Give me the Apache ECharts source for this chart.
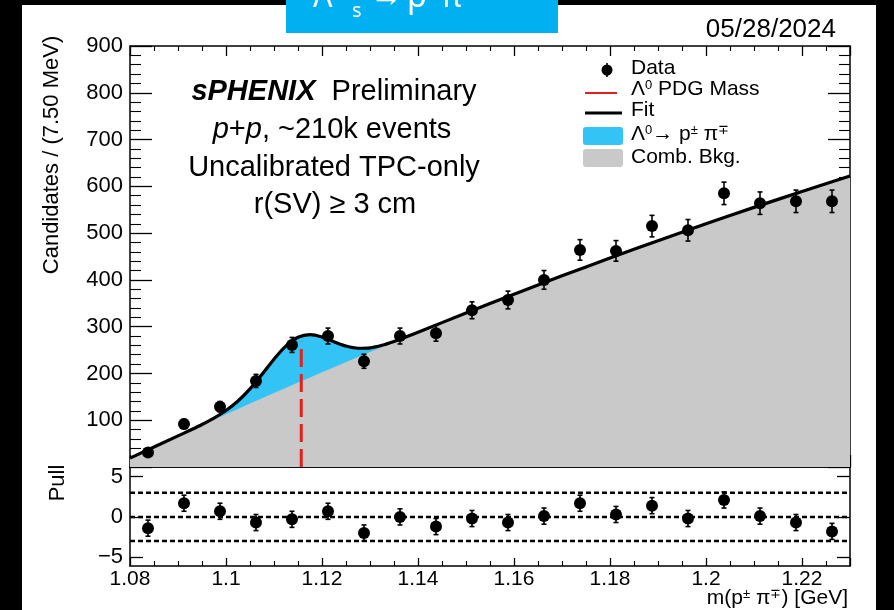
<!DOCTYPE html>
<html><head><meta charset="utf-8">
<script src="https://cdn.jsdelivr.net/npm/echarts@6/dist/echarts.min.js"></script>
<style>html,body{margin:0;padding:0;background:#000}#c{width:894px;height:610px}</style>
</head><body><div id="c"></div>
<script>
// ---- data ----
const binCenters = [1.08375, 1.09125, 1.09875, 1.10625, 1.11375, 1.12125, 1.12875, 1.13625, 1.14375, 1.15125,
                    1.15875, 1.16625, 1.17375, 1.18125, 1.18875, 1.19625, 1.20375, 1.21125, 1.21875, 1.22625];
const dataCounts = [31, 92, 129, 184, 261, 280, 226, 280, 286, 335, 357, 400, 464, 462, 515, 506, 585, 564, 568, 568];
const dataErrors = [6, 10, 11, 14, 16, 17, 15, 17, 17, 18, 19, 20, 22, 22, 23, 23, 24, 24, 24, 24];
const pullValues = [-1.4, 1.7, 0.7, -0.7, -0.3, 0.7, -2.0, 0.0, -1.2, -0.2, -0.7, 0.1, 1.7, 0.3, 1.4, -0.2, 2.1, 0.1, -0.7, -1.8];
const pullErrors = [1, 1, 1, 1, 1, 1, 1, 1, 1, 1, 1, 1, 1, 1, 1, 1, 1, 1, 1, 1];
const fitMass  = [1.08, 1.09, 1.0925, 1.095, 1.0975, 1.10, 1.1025, 1.105, 1.1075, 1.11, 1.1125, 1.115, 1.1175,
                  1.12, 1.1225, 1.125, 1.1275, 1.13, 1.1325, 1.135, 1.1375, 1.14, 1.15, 1.16, 1.17, 1.18, 1.19,
                  1.20, 1.21, 1.22, 1.23];
const fitTotal = [19.0, 66.5, 78.5, 90.9, 104.6, 120.8, 141.2, 167.1, 198.0, 230.5, 258.9, 277.4, 283.1,
                  278.0, 267.8, 258.6, 253.9, 254.8, 260.2, 268.4, 277.9, 288.0, 329.2, 369.4, 408.6, 446.7, 483.8,
                  519.9, 555.0, 589.0, 622.1];
const fitBkg   = [19.0, 66.4, 78.1, 89.7, 101.3, 112.8, 124.2, 135.6, 146.9, 158.1, 169.3, 180.4, 191.5,
                  202.4, 213.3, 224.2, 235.0, 245.7, 256.4, 267.0, 277.5, 288.0, 329.2, 369.4, 408.6, 446.7, 483.8,
                  519.9, 555.0, 589.0, 622.1];
const pdgMass = 1.11568;
const pdgLineTop = 268;
const pullLevels = [3, 0, -3];
const massRange = [1.08, 1.23];
const countsRange = [0, 900];
const pullRange = [-6.1, 6.2];
const pullTickValues = [-5, 0, 5];

// ---- styling ----
const FONT = 'Liberation Sans, Arial, Helvetica, sans-serif';
const BLUE = '#33c4f5', GRAY = '#c9c9c9', RED = '#e3201b';

function xAx(gridIndex, position, showLabel, major, minor, showTicks) {
  return {
    type: 'value', gridIndex, position, min: massRange[0], max: massRange[1], interval: 0.02,
    axisLine: {show: true, onZero: false, lineStyle: {color: '#000', width: 1.5}},
    axisTick: {show: showTicks, inside: true, length: major, lineStyle: {color: '#000', width: 1.3}},
    minorTick: {show: showTicks, splitNumber: 4, length: minor, lineStyle: {color: '#000', width: 1.1}},
    axisLabel: {show: showLabel, showMaxLabel: false, margin: 3, color: '#000', fontFamily: FONT, fontSize: 21,
      formatter: v => (+v.toFixed(4)).toString()},
    splitLine: {show: false}, minorSplitLine: {show: false}
  };
}
function yMain(position, showLabel) {
  return {
    type: 'value', gridIndex: 0, position, min: countsRange[0], max: countsRange[1], interval: 100,
    axisLine: {show: true, onZero: false, lineStyle: {color: '#000', width: 1.5}},
    axisTick: {show: true, inside: true, length: 22, lineStyle: {color: '#000', width: 1.3}},
    minorTick: {show: true, splitNumber: 5, length: 11, lineStyle: {color: '#000', width: 1.1}},
    axisLabel: {show: showLabel, showMinLabel: false, margin: 7, color: '#000', fontFamily: FONT, fontSize: 22},
    splitLine: {show: false}, minorSplitLine: {show: false}
  };
}
function yPull(position, showLabel) {
  return {
    type: 'value', gridIndex: 1, position, min: pullRange[0], max: pullRange[1],
    axisLine: {show: true, onZero: false, lineStyle: {color: '#000', width: 1.5}},
    axisTick: {show: true, inside: true, length: 13, customValues: pullTickValues, lineStyle: {color: '#000', width: 1.3}},
    minorTick: {show: false},
    axisLabel: {show: showLabel, margin: 7, color: '#000', fontFamily: FONT, fontSize: 22, customValues: pullTickValues,
      formatter: v => v < 0 ? '\u2212' + (-v) : String(v)},
    splitLine: {show: false}, minorSplitLine: {show: false}
  };
}

function errRender(params, api) {
  const x = api.value(0), y = api.value(1), e = api.value(2);
  const lo = api.coord([x, y - e]), hi = api.coord([x, y + e]);
  const c = 2.5, st = {stroke: '#000', lineWidth: 1.6};
  return {type: 'group', children: [
    {type: 'line', shape: {x1: lo[0], y1: lo[1], x2: hi[0], y2: hi[1]}, style: st},
    {type: 'line', shape: {x1: lo[0] - c, y1: lo[1], x2: lo[0] + c, y2: lo[1]}, style: st},
    {type: 'line', shape: {x1: hi[0] - c, y1: hi[1], x2: hi[0] + c, y2: hi[1]}, style: st}
  ]};
}

const mainPts = binCenters.map((m, i) => [m, dataCounts[i], dataErrors[i]]);
const pullPts = binCenters.map((m, i) => [m, pullValues[i], pullErrors[i]]);

const series = [
  {type: 'line', xAxisIndex: 0, yAxisIndex: 0, z: 1, data: fitMass.map((m, i) => [m, fitTotal[i]]),
   showSymbol: false, lineStyle: {width: 0}, areaStyle: {color: BLUE, opacity: 1}, silent: true},
  {type: 'line', xAxisIndex: 0, yAxisIndex: 0, z: 2, data: fitMass.map((m, i) => [m, fitBkg[i]]),
   showSymbol: false, lineStyle: {width: 0}, areaStyle: {color: GRAY, opacity: 1}, silent: true},
  {type: 'line', xAxisIndex: 0, yAxisIndex: 0, z: 3, data: [[pdgMass, 0], [pdgMass, pdgLineTop]],
   showSymbol: false, lineStyle: {color: RED, width: 3, type: [18, 7]}, silent: true},
  {type: 'line', xAxisIndex: 0, yAxisIndex: 0, z: 4, data: fitMass.map((m, i) => [m, fitTotal[i]]),
   showSymbol: false, smooth: 0.3, lineStyle: {color: '#000', width: 3.2}, silent: true},
  {type: 'custom', xAxisIndex: 0, yAxisIndex: 0, z: 5, data: mainPts, encode: {x: 0, y: 1}, renderItem: errRender},
  {type: 'scatter', xAxisIndex: 0, yAxisIndex: 0, z: 6, data: mainPts.map(p => [p[0], p[1]]),
   symbol: 'circle', symbolSize: 12, itemStyle: {color: '#000', opacity: 1}},
  ...pullLevels.map(lv => ({type: 'line', xAxisIndex: 2, yAxisIndex: 2, z: 3,
   data: [[massRange[0], lv], [massRange[1], lv]], showSymbol: false,
   lineStyle: {color: '#000', width: 2.5, type: [5, 3]}, silent: true})),
  {type: 'custom', xAxisIndex: 2, yAxisIndex: 2, z: 5, data: pullPts, encode: {x: 0, y: 1}, renderItem: errRender},
  {type: 'scatter', xAxisIndex: 2, yAxisIndex: 2, z: 6, data: pullPts.map(p => [p[0], p[1]]),
   symbol: 'circle', symbolSize: 12, itemStyle: {color: '#000', opacity: 1}}
];

const legX = 631;
const legRich = {t: {fontFamily: FONT, fontSize: 21, fill: '#000'}, s: {fontFamily: FONT, fontSize: 13, fill: '#000', verticalAlign: 'top'}};
const boxRich = {r: {fontFamily: FONT, fontSize: 29, fill: '#000'},
                 bi: {fontFamily: FONT, fontSize: 29, fontWeight: 'bold', fontStyle: 'italic', fill: '#000'},
                 i: {fontFamily: FONT, fontSize: 29, fontStyle: 'italic', fill: '#000'}};

const graphic = [
  {type: 'rect', z: -10, shape: {x: 22, y: 5, width: 854, height: 605}, style: {fill: '#fff'}},
  {type: 'rect', z: 10, shape: {x: 286, y: 0, width: 272, height: 33}, style: {fill: '#00b0f0'}},
  {type: 'text', z: 11, x: 313, y: -2, style: {text: 'Λ', font: '32px Noto Sans', fill: '#fff', align: 'left', verticalAlign: 'middle'}},
  {type: 'text', z: 11, x: 352, y: 11, style: {text: 's', font: '20px Noto Sans', fill: '#fff', align: 'left', verticalAlign: 'middle'}},
  {type: 'text', z: 11, x: 402, y: -3, style: {text: '→', font: '32px Noto Sans', fill: '#fff', align: 'right', verticalAlign: 'middle'}},
  {type: 'text', z: 11, x: 407, y: -2, style: {text: 'p', font: '32px Noto Sans', fill: '#fff', align: 'left', verticalAlign: 'middle'}},
  {type: 'text', z: 11, x: 441, y: -2, style: {text: 'π', font: '32px Noto Sans', fill: '#fff', align: 'left', verticalAlign: 'middle'}},
  {type: 'text', z: 11, x: 836, y: 30, style: {text: '05/28/2024', font: '26px ' + FONT, fill: '#000', align: 'right', verticalAlign: 'middle'}},
  // axis titles
  {type: 'text', z: 11, x: 52, y: 155, rotation: Math.PI / 2, style: {text: 'Candidates / (7.50 MeV)', font: '22px ' + FONT, fill: '#000', align: 'center', verticalAlign: 'middle'}},
  {type: 'text', z: 11, x: 58, y: 483, rotation: Math.PI / 2, style: {text: 'Pull', font: '22px ' + FONT, fill: '#000', align: 'center', verticalAlign: 'middle'}},
  {type: 'text', z: 11, x: 848, y: 598, style: {text: '{t|m(p}{s|±}{t| π}{s|∓}{t|) [GeV]}', rich: legRich, align: 'right', verticalAlign: 'middle'}},
  // info text
  {type: 'text', z: 11, x: 334, y: 92, style: {text: '{bi|sPHENIX}{r|  Preliminary}', rich: boxRich, align: 'center', verticalAlign: 'middle'}},
  {type: 'text', z: 11, x: 332, y: 130, style: {text: '{i|p}{r|+}{i|p}{r|, ~210k events}', rich: boxRich, align: 'center', verticalAlign: 'middle'}},
  {type: 'text', z: 11, x: 334, y: 168, style: {text: '{r|Uncalibrated TPC-only}', rich: boxRich, align: 'center', verticalAlign: 'middle'}},
  {type: 'text', z: 11, x: 335, y: 205, style: {text: '{r|r(SV) ≥ 3 cm}', rich: boxRich, align: 'center', verticalAlign: 'middle'}},
  // legend
  {type: 'line', z: 11, shape: {x1: 607, y1: 63, x2: 607, y2: 77}, style: {stroke: '#000', lineWidth: 1.6}},
  {type: 'circle', z: 11, shape: {cx: 607, cy: 70, r: 5.5}, style: {fill: '#000'}},
  {type: 'text', z: 11, x: legX, y: 68, style: {text: '{t|Data}', rich: legRich, align: 'left', verticalAlign: 'middle'}},
  {type: 'line', z: 11, shape: {x1: 585, y1: 93, x2: 617, y2: 93}, style: {stroke: RED, lineWidth: 2}},
  {type: 'text', z: 11, x: legX, y: 89, style: {text: '{t|Λ}{s|0}{t| PDG Mass}', rich: legRich, align: 'left', verticalAlign: 'middle'}},
  {type: 'line', z: 11, shape: {x1: 585, y1: 113, x2: 622, y2: 113}, style: {stroke: '#000', lineWidth: 3}},
  {type: 'text', z: 11, x: legX, y: 110, style: {text: '{t|Fit}', rich: legRich, align: 'left', verticalAlign: 'middle'}},
  {type: 'rect', z: 11, shape: {x: 583, y: 127, width: 40, height: 18, r: 3}, style: {fill: BLUE}},
  {type: 'text', z: 11, x: legX, y: 134, style: {text: '{t|Λ}{s|0}{t|→ p}{s|±}{t| π}{s|∓}', rich: legRich, align: 'left', verticalAlign: 'middle'}},
  {type: 'rect', z: 11, shape: {x: 583, y: 149, width: 40, height: 18, r: 3}, style: {fill: GRAY}},
  {type: 'text', z: 11, x: legX, y: 157, style: {text: '{t|Comb. Bkg.}', rich: legRich, align: 'left', verticalAlign: 'middle'}}
];

const chart = echarts.init(document.getElementById('c'), null, {renderer: 'canvas'});
chart.setOption({
  backgroundColor: '#000',
  animation: false,
  grid: [
    {left: 130, top: 46, width: 720, height: 421, outerBoundsMode: 'none', containLabel: false},
    {left: 130, top: 467, width: 720, height: 99, outerBoundsMode: 'none', containLabel: false}
  ],
  xAxis: [xAx(0, 'bottom', false, 12, 6, true), xAx(0, 'top', false, 10, 5, true),
          xAx(1, 'bottom', true, 8, 5, true), xAx(1, 'top', false, 0, 0, false)],
  yAxis: [yMain('left', true), yMain('right', false), yPull('left', true), yPull('right', false)],
  series,
  graphic
});
</script></body></html>
